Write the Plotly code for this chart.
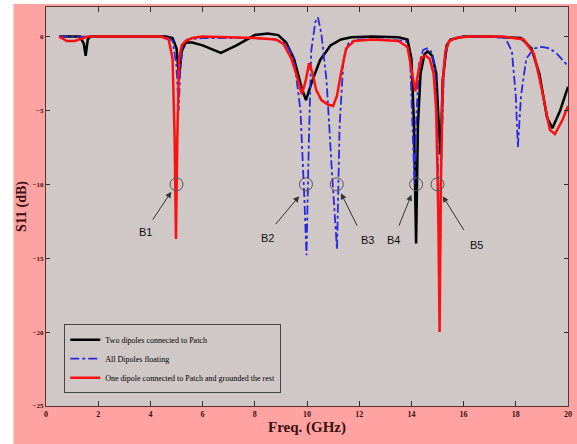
import plotly.graph_objects as go

# ---- data ----
black_x = [0.5, 1.3, 1.45, 1.52, 1.6, 1.7, 4.6, 4.85, 5.0, 5.1, 5.2, 5.35, 5.6, 6.0, 6.7, 7.3, 8.0, 8.5, 8.9,
           9.2, 9.5, 9.8, 9.96, 10.2, 10.5, 10.9, 11.3, 11.7, 12.5, 13.5, 13.85, 14.0, 14.1, 14.18, 14.25,
           14.35, 14.5, 14.62, 14.8, 14.95, 15.05, 15.12, 15.2, 15.35, 15.5, 16.0, 17.0, 18.2, 18.6, 18.9,
           19.2, 19.4, 19.7, 20.0]
black_y = [0, 0, -0.5, -1.3, -0.2, 0, 0, -0.1, -0.8, -2.7, -1.0, -0.4, -0.4, -0.6, -1.1, -0.6, 0.1, 0.2, 0.1,
           -0.4, -1.5, -3.5, -4.3, -3.0, -1.6, -0.6, -0.2, -0.05, 0, -0.05, -0.2, -1.5, -6, -14, -6,
           -2.5, -1.2, -1.0, -1.3, -2.5, -6, -8, -3, -0.6, -0.2, 0, 0, -0.1, -0.8, -2.5,
           -5.5, -6.2, -5.0, -3.4]

blue_x = [0.5, 4.6, 4.85, 5.0, 5.08, 5.15, 5.25, 5.4, 6.0, 8.0, 8.8, 9.2, 9.5, 9.75, 9.9, 9.98, 10.06, 10.16,
          10.32, 10.42, 10.55, 10.75, 10.95, 11.15, 11.25, 11.4, 11.6, 12.0, 13.0, 13.8, 13.95, 14.05, 14.12,
          14.2, 14.3, 14.45, 14.6, 14.75, 14.9, 15.0, 15.08, 15.15, 15.25, 15.4, 15.6, 16.0, 17.0, 17.6,
          17.85, 18.0, 18.08, 18.2, 18.4, 18.7, 19.0, 19.3, 19.6, 20.0]
blue_y = [0, 0, -0.3, -2, -5, -2, -0.5, -0.2, -0.1, -0.1, -0.2, -0.5, -1.5, -5, -11, -14.8, -8, -1,
          1.0, 1.3, 0.2, -3, -9, -14.4, -6, -1.5, -0.4, -0.2, -0.2, -0.3, -1.5, -6, -10,
          -5, -1.8, -0.9, -0.8, -1.0, -2, -6, -17, -8, -2, -0.5, -0.1, 0, 0, -0.1,
          -1, -4, -7.5, -4, -1.5, -0.8, -0.7, -0.8, -1.2, -2.0]

red_x = [0.5, 0.8, 1.1, 1.4, 1.6, 4.4, 4.7, 4.85, 4.93, 4.98, 5.03, 5.1, 5.2, 5.35, 5.6, 6.0, 7.0, 8.0, 8.8,
         9.1, 9.4, 9.6, 9.8, 9.95, 10.08, 10.2, 10.35, 10.55, 10.8, 11.0, 11.15, 11.3, 11.5, 11.8, 12.5,
         13.5, 13.85, 14.0, 14.15, 14.28, 14.4, 14.55, 14.7, 14.85, 14.95, 15.03, 15.08, 15.13, 15.2,
         15.3, 15.45, 15.7, 16.2, 17.5, 18.3, 18.7, 19.0, 19.3, 19.5, 19.8, 20.0]
red_y = [0, -0.3, -0.3, -0.1, 0, 0, -0.2, -1.5, -7, -13.7, -7, -1.5, -0.6, -0.3, -0.1, 0, -0.05, -0.1, -0.2,
         -0.5, -1.5, -2.6, -3.9, -3.0, -1.8, -2.4, -3.6, -4.3, -4.6, -4.7, -4.0, -2.5, -0.8, -0.3, -0.2,
         -0.3, -0.7, -2.2, -3.7, -2.2, -1.4, -1.3, -1.5, -2.5, -5, -12, -20, -10, -3,
         -1, -0.3, -0.1, 0, 0, -0.2, -1.2, -3.6, -6.3, -6.6, -5.6, -4.7]

band_labels = ["B1", "B2", "B3", "B4", "B5"]
band_freq = [5.0, 9.96, 11.14, 14.18, 15.0]
band_level = -10
label_x = [3.8, 8.5, 12.3, 13.3, 16.5]
label_y = [-13.2, -13.6, -13.8, -13.8, -14.1]
arrow_tail_x = [4.05, 8.75, 11.95, 13.5, 16.05]
arrow_tail_y = [-12.5, -12.8, -12.9, -12.9, -13.2]
arrow_head_x = [4.8, 9.7, 11.3, 14.0, 15.2]
arrow_head_y = [-10.5, -10.8, -10.6, -10.7, -10.8]

series_names = ["Two dipoles connected to Patch", "All Dipoles floating",
                "One dipole connected to Patch and grounded the rest"]

fig = go.Figure()
fig.add_trace(go.Scatter(x=black_x, y=black_y, mode="lines", name=series_names[0],
                         line=dict(color="#000000", width=2.5)))
fig.add_trace(go.Scatter(x=blue_x, y=blue_y, mode="lines", name=series_names[1],
                         line=dict(color="#2a2ae0", width=1.8, dash="dashdot")))
fig.add_trace(go.Scatter(x=red_x, y=red_y, mode="lines", name=series_names[2],
                         line=dict(color="#ff1010", width=2.5)))

# circles at -10 dB
fig.add_trace(go.Scatter(x=band_freq, y=[band_level] * len(band_freq), mode="markers",
                         marker=dict(symbol="circle-open", size=13, color="#555555", line=dict(width=1)),
                         showlegend=False, hoverinfo="skip"))

annotations = []
for i, lab in enumerate(band_labels):
    annotations.append(dict(x=label_x[i], y=label_y[i], text=lab, showarrow=False,
                            font=dict(family="Liberation Sans", size=11, color="#111111")))
    annotations.append(dict(x=arrow_head_x[i], y=arrow_head_y[i], ax=arrow_tail_x[i], ay=arrow_tail_y[i],
                            xref="x", yref="y", axref="x", ayref="y", text="", showarrow=True,
                            arrowhead=2, arrowsize=1.2, arrowwidth=1, arrowcolor="#333333"))

fig.update_layout(
    width=577, height=444,
    margin=dict(l=46, r=5, t=7, b=38),
    paper_bgcolor="rgb(255,162,162)",
    plot_bgcolor="rgb(208,199,199)",
    annotations=annotations,
    showlegend=True,
    legend=dict(x=0.035, y=0.205, xanchor="left", yanchor="top",
                bgcolor="rgb(208,199,199)", bordercolor="#444444", borderwidth=1,
                font=dict(family="Liberation Serif", size=8, color="#000000"),
                itemwidth=30),
    shapes=[dict(type="rect", xref="paper", yref="paper", x0=-0.1, x1=-0.0624, y0=-0.2, y1=1.1,
                 fillcolor="white", line=dict(width=0), layer="below"),
            dict(type="rect", xref="paper", yref="paper", x0=-0.1, x1=1.1, y0=1.0075, y1=1.1,
                 fillcolor="white", line=dict(width=0), layer="below")],
)

fig.update_xaxes(range=[0, 20], tickvals=[0, 2, 4, 6, 8, 10, 12, 14, 16, 18, 20],
                 ticks="inside", ticklen=5, tickcolor="#333333", mirror="ticks",
                 showline=True, linecolor="#5a3030", linewidth=1, showgrid=False, zeroline=False,
                 tickfont=dict(family="Liberation Serif", size=8, color="#3a1010", weight="bold"),
                 title=dict(text="<b>Freq. (GHz)</b>", standoff=2,
                            font=dict(family="Liberation Serif", size=15, color="#3a1010")))
fig.update_yaxes(range=[-25, 2], tickvals=[0, -5, -10, -15, -20, -25],
                 ticks="inside", ticklen=4, tickcolor="#333333", mirror="ticks",
                 showline=True, linecolor="#5a3030", linewidth=1, showgrid=False, zeroline=False,
                 tickfont=dict(family="Liberation Serif", size=7, color="#3a1010", weight="bold"),
                 title=dict(text="<b>S11 (dB)</b>", standoff=2,
                            font=dict(family="Liberation Serif", size=14, color="#3a1010")))

fig.write_html("out.html", config={"displayModeBar": False},
               post_script="document.body.style.margin='0';")
